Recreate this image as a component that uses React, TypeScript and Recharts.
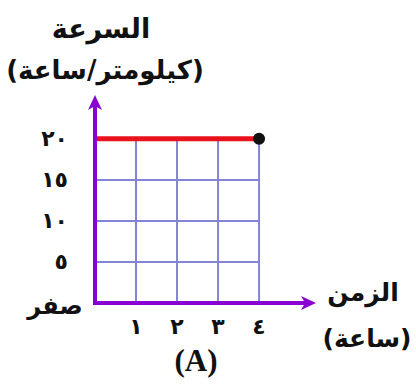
import React from 'react';
import { LineChart, Line, XAxis, YAxis, ReferenceLine } from 'recharts';

// بيانات الرسم: السرعة ثابتة عند ٢٠ كم/ساعة لمدة ٤ ساعات
const times = [0, 4];
const speeds = [20, 20];
const xTicks = [1, 2, 3, 4];
const xTickLabels = ['١', '٢', '٣', '٤'];
const yTicks = [0, 5, 10, 15, 20];
const yTickLabels = ['صفر', '٥', '١٠', '١٥', '٢٠'];

const data = times.map((t, i) => ({ t, v: speeds[i] }));

const AXIS = '#8a00d2';
const GRID = '#8484d4';
const ARABIC = '"DejaVu Sans", sans-serif';

const YTick = (props: any) => {
  const { x, y, payload } = props;
  const i = yTicks.indexOf(payload.value);
  const isZero = payload.value === 0;
  return (
    <text
      x={isZero ? x - 13 : x}
      y={isZero ? y + 3 : y}
      textAnchor={isZero ? 'middle' : 'end'}
      dominantBaseline="central"
      fontFamily={ARABIC}
      fontWeight="bold"
      fontSize={isZero ? 24 : 22}
      fill="#111"
    >
      {yTickLabels[i]}
    </text>
  );
};

const XTick = (props: any) => {
  const { x, y, payload } = props;
  const i = xTicks.indexOf(payload.value);
  return (
    <text
      x={x}
      y={y}
      textAnchor="middle"
      dominantBaseline="central"
      fontFamily={ARABIC}
      fontWeight="bold"
      fontSize={22}
      fill="#111"
    >
      {xTickLabels[i]}
    </text>
  );
};

const EndDot = (props: any) => {
  const { cx, cy, index } = props;
  if (index !== data.length - 1) return <g key={index} />;
  return <circle key={index} cx={cx} cy={cy} r={6} fill="#111" />;
};

const label = (text: string, left: number, top: number, size: number, font = ARABIC) => (
  <div
    style={{
      position: 'absolute',
      left,
      top,
      transform: 'translate(-50%, -50%)',
      whiteSpace: 'nowrap',
      fontFamily: font,
      fontWeight: 'bold',
      fontSize: size,
      color: '#111',
      direction: font === ARABIC ? 'rtl' : 'ltr',
      lineHeight: 1,
    }}
  >
    {text}
  </div>
);

export default function App() {
  return (
    <div style={{ position: 'absolute', left: 0, top: 0, width: 416, height: 387, background: '#fff' }}>
      <svg width={0} height={0} style={{ position: 'absolute' }}>
        <defs>
          <marker
            id="arrowEnd"
            markerUnits="userSpaceOnUse"
            markerWidth={16}
            markerHeight={14}
            refX={4}
            refY={7}
            orient="auto"
          >
            <path d="M0,0 L15,7 L0,14 L4,7 z" fill={AXIS} />
          </marker>
          <marker
            id="arrowStart"
            markerUnits="userSpaceOnUse"
            markerWidth={16}
            markerHeight={14}
            refX={4}
            refY={7}
            orient="auto-start-reverse"
          >
            <path d="M0,0 L15,7 L0,14 L4,7 z" fill={AXIS} />
          </marker>
        </defs>
      </svg>
      <LineChart
        width={416}
        height={387}
        data={data}
        margin={{ top: 106, right: 111, bottom: 54, left: 35 }}
      >
        <XAxis
          dataKey="t"
          type="number"
          domain={[0, 5.12]}
          ticks={xTicks}
          interval={0}
          tickSize={0}
          tickMargin={23}
          tick={<XTick />}
          height={30}
          allowDataOverflow
          axisLine={{ stroke: AXIS, strokeWidth: 4, markerEnd: 'url(#arrowEnd)', strokeLinecap: 'square' } as any}
        />
        <YAxis
          type="number"
          domain={[0, 24]}
          ticks={yTicks}
          interval={0}
          tickSize={0}
          tickMargin={27}
          tick={<YTick />}
          width={60}
          allowDataOverflow
          axisLine={{ stroke: AXIS, strokeWidth: 4, markerStart: 'url(#arrowStart)', strokeLinecap: 'square' } as any}
        />
        {xTicks.map((t) => (
          <ReferenceLine
            key={'vx' + t}
            segment={[{ x: t, y: 0 }, { x: t, y: 20 }]}
            stroke={GRID}
            strokeWidth={2}
          />
        ))}
        {yTicks.slice(1, -1).map((v) => (
          <ReferenceLine
            key={'hy' + v}
            segment={[{ x: 0, y: v }, { x: 4, y: v }]}
            stroke={GRID}
            strokeWidth={2}
          />
        ))}
        <Line
          dataKey="v"
          stroke="#e8121c"
          strokeWidth={5}
          dot={<EndDot />}
          activeDot={false}
          isAnimationActive={false}
        />
      </LineChart>
      {label('السرعة', 101, 28, 27)}
      {label('(كيلومتر/ساعة)', 105, 70, 26)}
      {label('الزمن', 363, 292, 25)}
      {label('(ساعة)', 367, 338, 25)}
      {label('(A)', 196, 360, 31, '"Liberation Serif", serif')}
    </div>
  );
}
